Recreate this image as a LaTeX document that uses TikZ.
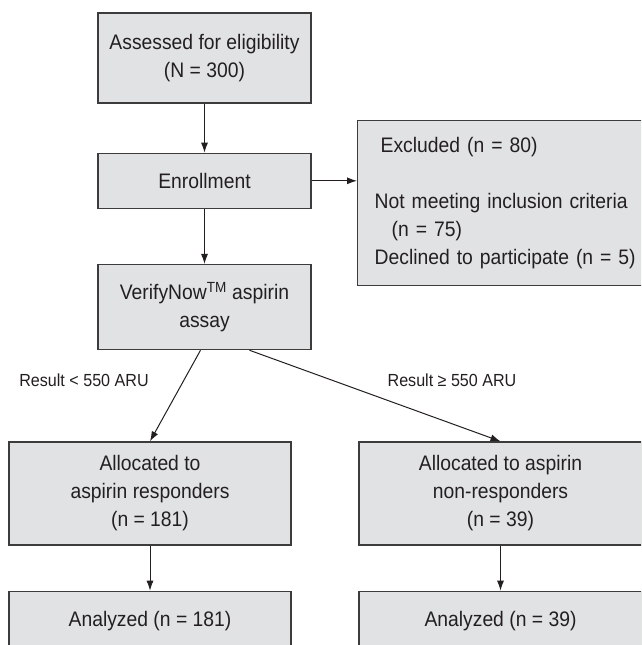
\documentclass[tikz,border=0pt]{standalone}
\usepackage{fontspec}
\setmainfont[FakeStretch=0.92]{Liberation Sans}
\usetikzlibrary{positioning,arrows.meta}

\definecolor{boxfill}{HTML}{E1E2E4}
\definecolor{boxline}{HTML}{3C3C3C}
\definecolor{ink}{HTML}{231F20}

\tikzset{
  box/.style={draw=boxline, fill=boxfill, line width=1.3pt, align=center, inner sep=0pt, text=ink, font=\fontsize{21}{28}\selectfont},
  flow/.style={draw=ink, line width=1pt, -{Latex[length=10pt,width=7pt]}},
  lbl/.style={text=ink, font=\fontsize{17.5}{20}\selectfont}
}

\begin{document}
\begin{tikzpicture}[x=1pt,y=1pt]
  \clip (0,0) rectangle (641,-645);

  % Define nodes
  \node[box, minimum width=213pt, minimum height=90pt] (assess) at (204.5,-58) {Assessed for eligibility\\(N = 300)};
  \node[box, minimum width=213pt, minimum height=55pt, below=49pt of assess] (enroll) {Enrollment};
  \node[box, minimum width=213pt, minimum height=85pt, below=55pt of enroll] (verify) {VerifyNow\textsuperscript{TM} aspirin\\assay};
  \node[box, anchor=north west, minimum height=165pt, inner xsep=17pt, text width=275pt, align=left] (excl) at (357,-120)
    {\hspace*{6pt}Excluded (n = 80)\\[28pt]Not meeting inclusion criteria\\\hspace*{17pt}(n = 75)\\Declined to participate (n = 5)};   % right side runs off the page

  \node[lbl] (lowres)  at (84,-380)  {Result < 550 ARU};
  \node[lbl] (highres) at (452,-380) {Result ≥ 550 ARU};

  \node[box, minimum width=282pt, minimum height=103pt] (resp)    at (150,-493.5) {Allocated to\\aspirin responders\\(n = 181)};
  \node[box, minimum width=283pt, minimum height=103pt] (nonresp) at (500.5,-493.5) {Allocated to aspirin\\non-responders\\(n = 39)};
  \node[box, minimum width=282pt, minimum height=60pt, below=45pt of resp]    (anaresp) {Analyzed (n = 181)};
  \node[box, minimum width=283pt, minimum height=60pt, below=45pt of nonresp] (ananon)  {Analyzed (n = 39)};

  % Connect the nodes
  \draw[flow] (assess) -- (enroll);
  \draw[flow] (enroll) -- (enroll.east -| excl.west);
  \draw[flow] (enroll) -- (verify);
  \draw[flow] ([xshift=-4pt]verify.south) -- (resp.north);
  \draw[flow] ([xshift=45pt]verify.south) -- (nonresp.north);
  \draw[flow] (resp) -- (anaresp);
  \draw[flow] (nonresp) -- (ananon);

\end{tikzpicture}
\end{document}
